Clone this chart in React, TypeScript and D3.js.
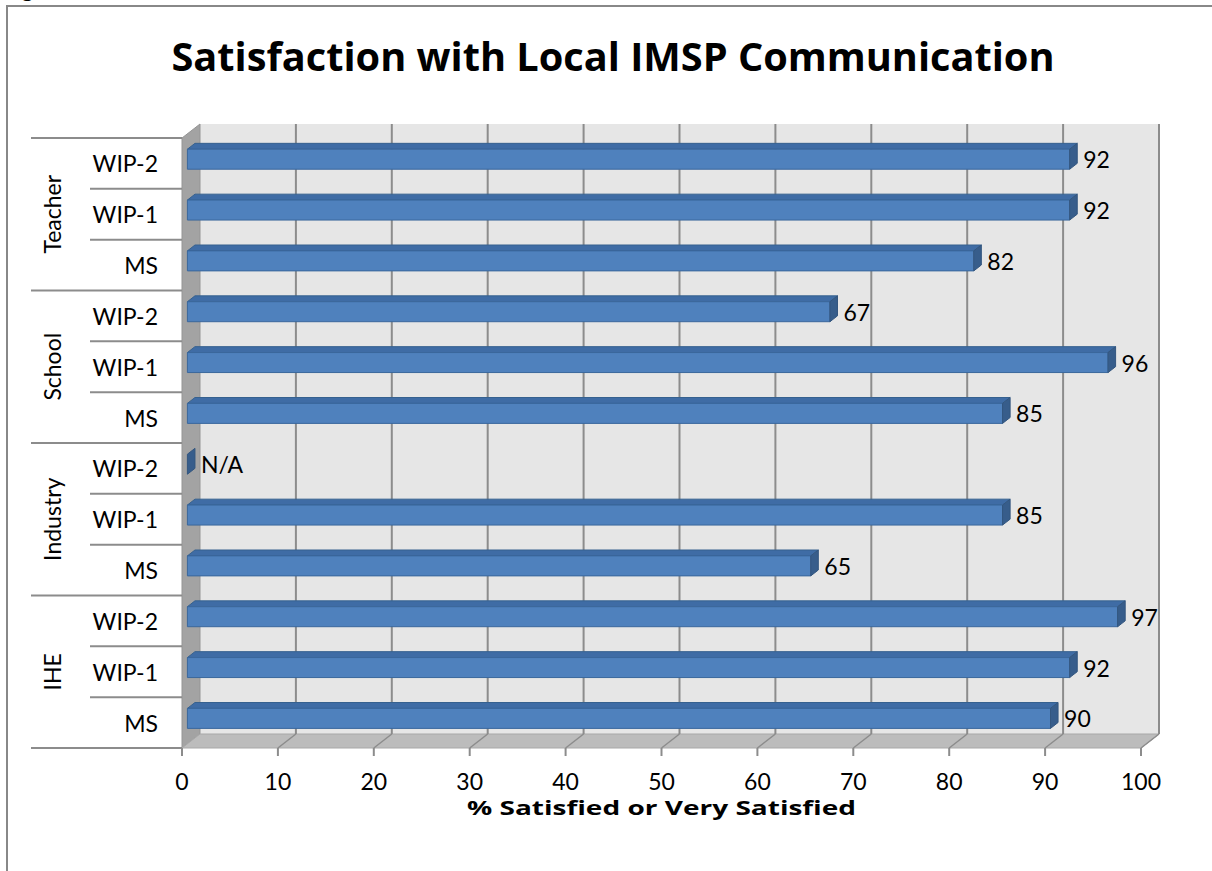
import React from "react";
import * as d3 from "d3";

// Survey groups (top to bottom) and the phases shown within each group
const groups = ["Teacher", "School", "Industry", "IHE"];
const phases = ["WIP-2", "WIP-1", "MS"];

// % satisfied or very satisfied, per group in phase order (WIP-2, WIP-1, MS); null = N/A
const teacherValues = [92, 92, 82];
const schoolValues = [67, 96, 85];
const industryValues = [null, 85, 65];
const iheValues = [97, 92, 90];

const xTicks = [0, 10, 20, 30, 40, 50, 60, 70, 80, 90, 100];

const title = "Satisfaction with Local IMSP Communication";
const xTitle = "% Satisfied or Very Satisfied";

const W = 1212;
const H = 871;
const FONT = "Lato, 'Open Sans', sans-serif";
const BOLD_FONT = "'Open Sans', Lato, sans-serif";

// 3D projection of the plot box: depth shifts right and up
const DX = 18;
const DY = 14;
const BAR_Z0 = 0.3;
const BAR_Z1 = 0.72;
const BAR_H = 20;

type Row = { group: string; phase: string; value: number | null; key: string };

const valueSets = [teacherValues, schoolValues, industryValues, iheValues];
const rows: Row[] = groups.flatMap((g, gi) =>
  phases.map((p, pi) => ({ group: g, phase: p, value: valueSets[gi][pi], key: `${g}-${p}` }))
);

export default function App() {
  const x = d3.scaleLinear().domain([0, 100]).range([182, 1141]);
  const y = d3.scaleBand<string>().domain(rows.map((r) => r.key)).range([138, 748]).padding(0);
  const top = 138;
  const bottom = 748;
  const bw = y.bandwidth();

  const grid = "#8c8c8c";

  const proj = (v: number, yy: number, z: number): [number, number] => [x(v) + z * DX, yy - z * DY];
  const pts = (arr: [number, number][]) => arr.map((p) => p.join(",")).join(" ");

  return (
    <svg
      width={W}
      height={H}
      style={{ position: "absolute", left: 0, top: 0, background: "#fff" }}
      fontFamily={FONT}
    >
      {/* caption text cut off at the top edge */}
      <text x={2} y={-3} fontSize={24} fill="#000">Figure</text>

      {/* chart area border */}
      <path d={`M7,${H + 5} L7,6 L${W + 5},6`} fill="none" stroke="#888" strokeWidth={2} />

      <text
        x={613}
        y={71}
        textAnchor="middle"
        fontFamily={BOLD_FONT}
        fontSize={40}
        fontWeight={700}
        textLength={883}
        lengthAdjust="spacingAndGlyphs"
        fill="#000"
      >
        {title}
      </text>

      {/* back wall */}
      <polygon
        points={pts([proj(0, top, 1), proj(100, top, 1), proj(100, bottom, 1), proj(0, bottom, 1)])}
        fill="#e6e6e6"
      />
      {/* side wall */}
      <polygon
        points={pts([proj(0, top, 0), proj(0, top, 1), proj(0, bottom, 1), proj(0, bottom, 0)])}
        fill="#a3a3a3"
        stroke="#959595"
        strokeWidth={1}
      />
      {/* floor */}
      <polygon
        points={pts([proj(0, bottom, 0), proj(0, bottom, 1), proj(100, bottom, 1), proj(100, bottom, 0)])}
        fill="#bcbcbc"
        stroke="#a8a8a8"
        strokeWidth={1}
      />

      {/* gridlines on back wall and floor */}
      {xTicks.filter((t) => t > 0).map((t) => {
        const [bx, by0] = proj(t, top, 1);
        const [, by1] = proj(t, bottom, 1);
        const [fx, fy] = proj(t, bottom, 0);
        return (
          <g key={`g${t}`}>
            <line x1={bx} y1={by0} x2={bx} y2={by1} stroke={grid} strokeWidth={2} />
            <line x1={bx} y1={by1} x2={fx} y2={fy} stroke={grid} strokeWidth={1.5} />
          </g>
        );
      })}

      {/* x axis ticks and labels */}
      {xTicks.map((t) => (
        <g key={`t${t}`}>
          <line x1={x(t)} y1={bottom} x2={x(t)} y2={bottom + 8} stroke={grid} strokeWidth={2} />
          <text x={x(t)} y={790} textAnchor="middle" fontSize={23} fill="#000">
            {t}
          </text>
        </g>
      ))}
      <text
        x={(x(0) + x(100)) / 2}
        y={815}
        textAnchor="middle"
        fontFamily={BOLD_FONT}
        fontSize={20}
        fontWeight={700}
        textLength={389}
        lengthAdjust="spacingAndGlyphs"
        fill="#000"
      >
        {xTitle}
      </text>

      {/* bars */}
      {rows.map((r) => {
        const yc = (y(r.key) as number) + bw / 2;
        const y0 = yc - BAR_H / 2;
        const y1 = yc + BAR_H / 2;
        const v = r.value ?? 0;
        const f0 = proj(0, y0, BAR_Z0);
        const f1 = proj(v, y0, BAR_Z0);
        const f2 = proj(v, y1, BAR_Z0);
        const f3 = proj(0, y1, BAR_Z0);
        const b0 = proj(0, y0, BAR_Z1);
        const b1 = proj(v, y0, BAR_Z1);
        const b2 = proj(v, y1, BAR_Z1);
        const labelX = b1[0] + 6;
        const labelY = (f1[1] + f2[1]) / 2;
        return (
          <g key={r.key}>
            {v > 0 && (
              <>
                <polygon points={pts([f0, f1, b1, b0])} fill="#3f6ca5" stroke="#36618f" strokeWidth={1} />
                <polygon points={pts([f0, f1, f2, f3])} fill="#4f81bd" stroke="#3a679c" strokeWidth={1} />
              </>
            )}
            <polygon points={pts([f1, b1, b2, f2])} fill="#375d8b" stroke="#33567f" strokeWidth={1} />
            <text x={labelX} y={labelY} dominantBaseline="central" fontSize={23} fill="#000">
              {r.value == null ? "N/A" : r.value}
            </text>
          </g>
        );
      })}

      {/* category axis: phase labels and separators */}
      {rows.map((r, i) => {
        const y0 = y(r.key) as number;
        const isGroupEdge = i % phases.length === 0;
        return (
          <g key={`c${r.key}`}>
            <line x1={isGroupEdge ? 31 : 90} y1={y0} x2={182} y2={y0} stroke={grid} strokeWidth={2} />
            <text x={158} y={y0 + bw / 2} textAnchor="end" dominantBaseline="central" fontSize={23} fill="#000">
              {r.phase}
            </text>
          </g>
        );
      })}
      <line x1={31} y1={bottom} x2={182} y2={bottom} stroke={grid} strokeWidth={2} />

      {/* group labels, rotated */}
      {groups.map((g, gi) => {
        const gy0 = y(`${g}-${phases[0]}`) as number;
        const gy1 = (y(`${g}-${phases[phases.length - 1]}`) as number) + bw;
        const cy = (gy0 + gy1) / 2;
        return (
          <text
            key={`grp${g}`}
            transform={`translate(52,${cy}) rotate(-90)`}
            textAnchor="middle"
            dominantBaseline="central"
            fontSize={23}
            fill="#000"
          >
            {g}
          </text>
        );
      })}
    </svg>
  );
}
